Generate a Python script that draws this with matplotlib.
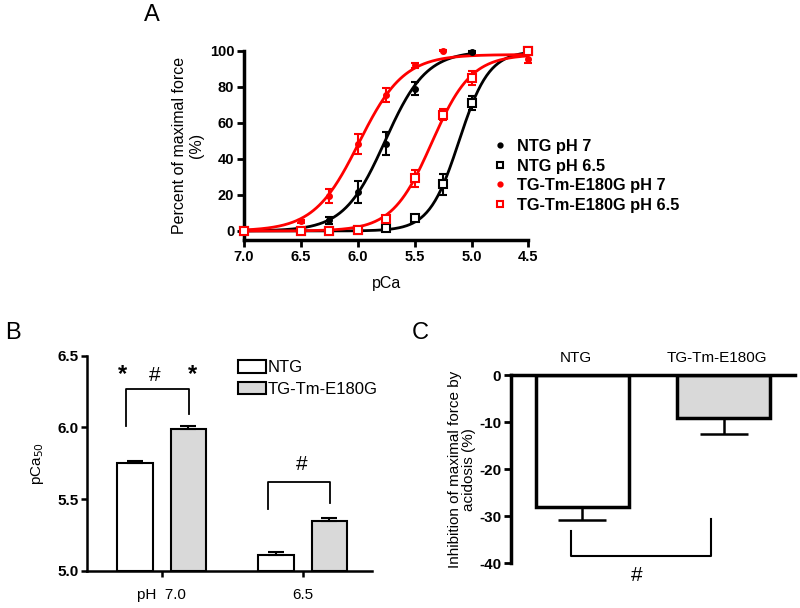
import numpy as np
import matplotlib
matplotlib.use('Agg')
import matplotlib.pyplot as plt
from matplotlib.lines import Line2D
from matplotlib.patches import Patch

plt.rcParams['font.family'] = ['Liberation Sans', 'DejaVu Sans']
plt.rcParams['axes.unicode_minus'] = False

# --- Panel A: force-pCa data (mean, SEM) ---
pca_ntg7 = [7.0, 6.5, 6.25, 6.0, 5.75, 5.5, 5.0]
ntg7 = [0, 1, 6, 21.5, 48.5, 79, 99.5]
ntg7_err = [0, 0.5, 2, 6.2, 6.5, 3.7, 0.5]

pca_ntg65 = [7.0, 6.5, 6.25, 6.0, 5.75, 5.5, 5.25, 5.0, 4.5]
ntg65 = [0, 0, 0, 0.3, 1.5, 7, 26, 71, 100]
ntg65_err = [0, 0, 0, 0, 0.5, 1.5, 5.8, 3.7, 0.5]

pca_tg7 = [7.0, 6.5, 6.25, 6.0, 5.75, 5.5, 5.25, 4.5]
tg7 = [0, 5.5, 19.5, 48.5, 75.5, 92, 100, 95.6]
tg7_err = [0, 0.8, 3.7, 5.5, 3.7, 1.5, 0.3, 2.5]

pca_tg65 = [7.0, 6.5, 6.25, 6.0, 5.75, 5.5, 5.25, 5.0, 4.5]
tg65 = [0, 0, 0, 0.5, 6.7, 29.3, 64.5, 85, 100]
tg65_err = [0, 0, 0, 0, 1.5, 4.6, 3, 4, 0.5]

# Hill fits shown as curves: (top, pCa50, nH, last pCa of the curve)
fit_ntg7 = (100, 5.76, 2.4, 5.0)
fit_ntg65 = (100, 5.11, 3.3, 4.5)
fit_tg7 = (98, 5.99, 2.2, 4.5)
fit_tg65 = (98, 5.35, 2.5, 4.5)

legend_a = ['NTG pH 7', 'NTG pH 6.5', 'TG-Tm-E180G pH 7', 'TG-Tm-E180G pH 6.5']

# --- Panel B: pCa50 ---
groups_b = ['pH  7.0', '6.5']
ntg_pca50 = [5.75, 5.11]
ntg_pca50_err = [0.015, 0.02]
tg_pca50 = [5.99, 5.35]
tg_pca50_err = [0.018, 0.018]

# --- Panel C: inhibition of max force ---
groups_c = ['NTG', 'TG-Tm-E180G']
inhibition = [-28.1, -9.2]
inhibition_err = [2.6, 3.4]

grey = '#d9d9d9'

fig = plt.figure(figsize=(8, 6.08), dpi=100)

# ================= Panel A =================
axA = fig.add_axes([0.305, 0.6053, 0.3556, 0.3109])


def hill(p, top, p50, n):
    return top / (1 + 10 ** (n * (p - p50)))


series = [
    (pca_ntg7, ntg7, ntg7_err, fit_ntg7, 'black', 'o', 'black'),
    (pca_ntg65, ntg65, ntg65_err, fit_ntg65, 'black', 's', 'white'),
    (pca_tg7, tg7, tg7_err, fit_tg7, 'red', 'o', 'red'),
    (pca_tg65, tg65, tg65_err, fit_tg65, 'red', 's', 'white'),
]
handles = []
for px, py, pe, fit, col, mk, fc in series:
    top, p50, n, pend = fit
    xs = np.linspace(7.0, pend, 300)
    axA.plot(xs, hill(xs, top, p50, n), color=col, lw=2, zorder=2)
    axA.errorbar(px, py, yerr=pe, fmt='none', ecolor=col, elinewidth=1.5,
                 capsize=3, capthick=1.5, zorder=3, clip_on=False)
    ms = 3.5 if mk == 'o' else 6
    axA.plot(px, py, linestyle='none', marker=mk, ms=ms, mfc=fc, mec=col,
             mew=1.5, zorder=4, clip_on=False)
    handles.append(Line2D([], [], linestyle='none', marker=mk, ms=ms - 1 if mk == 's' else 3,
                          mfc=fc, mec=col, mew=1.5))

axA.set_xlim(7.0, 4.5)
axA.set_ylim(-5, 100)
axA.set_xticks([7.0, 6.5, 6.0, 5.5, 5.0, 4.5])
axA.set_xticklabels(['%.1f' % v for v in [7.0, 6.5, 6.0, 5.5, 5.0, 4.5]])
axA.set_yticks([0, 20, 40, 60, 80, 100])
for s in ['top', 'right']:
    axA.spines[s].set_visible(False)
for s in ['left', 'bottom']:
    axA.spines[s].set_linewidth(2.5)
axA.tick_params(direction='out', length=5, width=2, labelsize=10.5, pad=2)
for lab in axA.get_xticklabels() + axA.get_yticklabels():
    lab.set_fontweight('bold')
axA.set_xlabel('pCa', fontsize=11.5, labelpad=9)
axA.set_ylabel('Percent of maximal force\n(%)', fontsize=11.5, labelpad=4.5,
               linespacing=1.1)
fig.legend(handles, legend_a, loc='upper left', bbox_to_anchor=(492 / 800, 1 - 139 / 608),
           frameon=False, borderpad=0, borderaxespad=0, handlelength=1.0,
           handletextpad=0.5, labelspacing=0.28,
           prop={'weight': 'bold', 'size': 11.8})

# ================= Panel B =================
axB = fig.add_axes([0.10875, 0.0609, 0.356, 0.354])
xb = np.arange(len(groups_b))
off, wb = 0.189, 0.252
base = 5.0
axB.bar(xb - off, np.array(ntg_pca50) - base, wb, bottom=base, color='white',
        edgecolor='black', lw=1.5, zorder=2)
axB.bar(xb + off, np.array(tg_pca50) - base, wb, bottom=base, color=grey,
        edgecolor='black', lw=1.5, zorder=2)
axB.errorbar(xb - off, ntg_pca50, yerr=[np.zeros(2), ntg_pca50_err], fmt='none',
             ecolor='black', elinewidth=1.5, capsize=6, capthick=1.5, zorder=3)
axB.errorbar(xb + off, tg_pca50, yerr=[np.zeros(2), tg_pca50_err], fmt='none',
             ecolor='black', elinewidth=1.5, capsize=6, capthick=1.5, zorder=3)

# significance brackets
axB.plot([-0.253, -0.253, 0.194, 0.194], [6.01, 6.266, 6.266, 6.094], color='black', lw=1.3)
axB.plot([0.752, 0.752, 1.194, 1.194], [5.434, 5.62, 5.62, 5.477], color='black', lw=1.3)
axB.text(-0.279, 6.37, '*', ha='center', va='center', fontsize=17, fontweight='bold')
axB.text(-0.048, 6.36, '#', ha='center', va='center', fontsize=15)
axB.text(0.22, 6.37, '*', ha='center', va='center', fontsize=17, fontweight='bold')
axB.text(0.993, 5.74, '#', ha='center', va='center', fontsize=15)

axB.set_xlim(-0.53, 1.49)
axB.set_ylim(5.0, 6.5)
axB.set_yticks([5.0, 5.5, 6.0, 6.5])
axB.set_yticklabels(['%.1f' % v for v in [5.0, 5.5, 6.0, 6.5]])
axB.set_xticks(xb)
axB.set_xticklabels(groups_b, fontsize=11)
for s in ['top', 'right']:
    axB.spines[s].set_visible(False)
for s in ['left', 'bottom']:
    axB.spines[s].set_linewidth(1.8)
axB.tick_params(axis='y', direction='out', length=4, width=1.8, labelsize=11, pad=2)
axB.tick_params(axis='x', direction='out', length=4, width=1.8, pad=8)
for lab in axB.get_yticklabels():
    lab.set_fontweight('bold')
axB.set_ylabel('pCa$_{50}$', fontsize=11, labelpad=8)
leg_b = [Patch(facecolor='white', edgecolor='black', lw=1.5),
         Patch(facecolor=grey, edgecolor='black', lw=1.5)]
fig.legend(leg_b, ['NTG', 'TG-Tm-E180G'], loc='upper left',
           bbox_to_anchor=(238 / 800, 1 - 360 / 608), frameon=False, borderpad=0,
           borderaxespad=0, handlelength=1.65, handleheight=0.8, handletextpad=0.12,
           labelspacing=0.38, fontsize=12)

# ================= Panel C =================
axC = fig.add_axes([0.63875, 0.0735, 0.355, 0.3097])
xc = np.arange(len(groups_c))
axC.bar(xc, inhibition, 0.665, color=['white', grey], edgecolor='black', lw=2.5, zorder=2)
axC.errorbar(xc, inhibition, yerr=[inhibition_err, np.zeros(2)], fmt='none',
             ecolor='black', elinewidth=1.8, capsize=17, capthick=1.8, zorder=1)
axC.plot([-0.084, -0.084, 0.909, 0.909], [-33.1, -38.4, -38.4, -30.6], color='black',
         lw=1.5, clip_on=False)
axC.text(0.384, -42.6, '#', ha='center', va='center', fontsize=15, clip_on=False)
axC.set_xlim(-0.507, 1.507)
axC.set_ylim(-40, 0)
axC.set_yticks([0, -10, -20, -30, -40])
axC.xaxis.tick_top()
axC.set_xticks(xc - 0.05)
axC.set_xticklabels(groups_c, fontsize=11)
axC.tick_params(axis='x', length=0, pad=7)
axC.tick_params(axis='y', direction='out', length=5, width=2, labelsize=11, pad=2)
for lab in axC.get_yticklabels():
    lab.set_fontweight('bold')
for s in ['bottom', 'right']:
    axC.spines[s].set_visible(False)
for s in ['left', 'top']:
    axC.spines[s].set_linewidth(2.5)
axC.set_ylabel('Inhibition of maximal force by\nacidosis (%)', fontsize=11,
               labelpad=2, linespacing=1.05)

# panel letters
fig.text(152 / 800, 1 - 15 / 608, 'A', ha='center', va='center', fontsize=17)
fig.text(12.5 / 800, 1 - 333 / 608, 'B', ha='center', va='center', fontsize=17)
fig.text(420 / 800, 1 - 333 / 608, 'C', ha='center', va='center', fontsize=17)

fig.savefig('out.png', dpi=100)
